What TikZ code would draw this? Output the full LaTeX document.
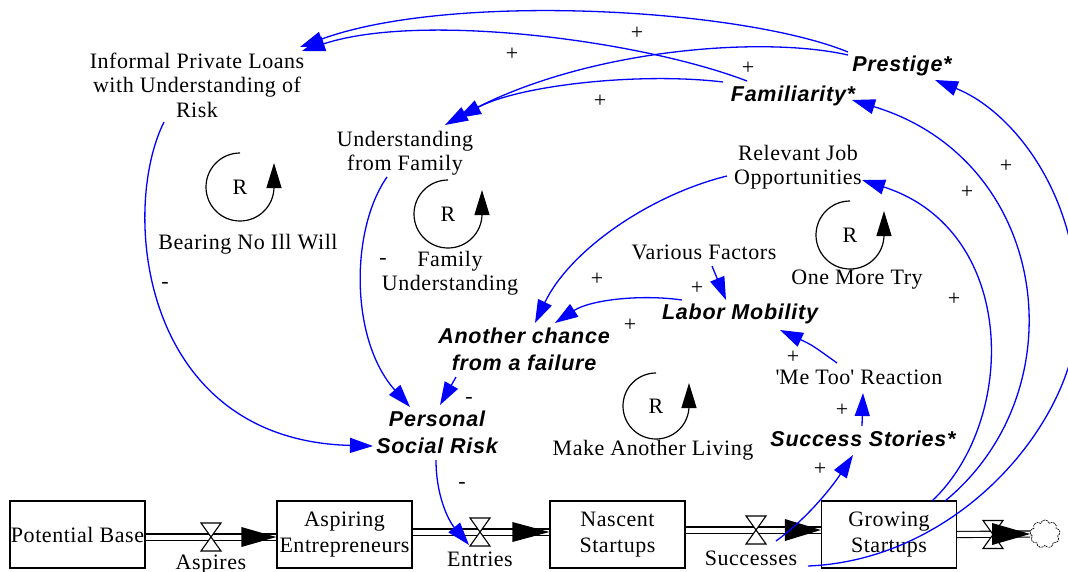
\documentclass[tikz,border=0pt]{standalone}
\usepackage{fontspec}
\setmainfont{Liberation Serif}[LetterSpace=2.5]
\newfontfamily\vsans{Liberation Sans}[LetterSpace=3.5]
\usetikzlibrary{arrows.meta,shapes.symbols}

\tikzset{
  lbl/.style={inner sep=0pt, align=center, font=\fontsize{22}{24.5}\selectfont},
  keyvar/.style={inner sep=0pt, align=center, font=\vsans\bfseries\itshape\fontsize{21.5}{27}\selectfont},
  stock/.style={draw=black, line width=1.2pt, minimum width=135pt, minimum height=67pt,
                inner sep=0pt, align=center, font=\fontsize{22}{25.5}\selectfont},
  link/.style={draw=blue, line width=1.3pt, -{Triangle[length=23pt,width=15pt]}},
  pipe/.style={double, double distance=5pt, line width=1.1pt},
  flowhead/.style={fill=black},
  loopline/.style={line width=1.2pt, -{Triangle[length=25pt,width=15pt]}},
  sign/.style={inner sep=0pt, font=\fontsize{22}{24}\selectfont},
  valve/.pic={\draw[line width=1.1pt, fill=white] (-10,14) -- (10,14) -- (-10,-14) -- (10,-14) -- cycle;},
}

\begin{document}
\begin{tikzpicture}[x=1pt,y=1pt]
\useasboundingbox (0,0) rectangle (1068,-571);
\clip (0,0) rectangle (1068,-571);

% ---------- stocks ----------
\node[stock] (pb) at (77.5,-534.5) {Potential Base};
\node[stock] (ae) at (344.5,-534.5) {Aspiring\\Entrepreneurs};
\node[stock] (ns) at (617.5,-534.5) {Nascent\\Startups};
\node[stock] (gs) at (889,-534.5) {Growing\\Startups};
\node[cloud, draw, cloud puffs=9, minimum width=30pt, minimum height=28pt, inner sep=0pt,
      line width=0.7pt, dash pattern=on 2pt off 0.8pt] (sink) at (1045,-534) {};

% ---------- flows ----------
\coordinate (vAspires) at (211,-537);
\coordinate (vEntries) at (480,-532);
\coordinate (vSuccesses) at (756,-530);
\coordinate (vExits) at (993,-534.5);

\draw[pipe] ([yshift=-2.5]pb.east) -- ([yshift=-2.5]ae.west);
\pic at (vAspires) {valve};
\fill[flowhead] ([shift={(-35,7.5)}]ae.west) -- ([yshift=-2.5]ae.west) -- ([shift={(-35,-12.5)}]ae.west) -- cycle;
\node[lbl] (aspiresL) at (211,-565) {Aspires};

\draw[pipe] ([yshift=2.5]ae.east) -- ([yshift=2.5]ns.west);
\pic at (vEntries) {valve};
\fill[flowhead] ([shift={(-37,12.5)}]ns.west) -- ([yshift=2.5]ns.west) -- ([shift={(-37,-7.5)}]ns.west) -- cycle;
\node[lbl] (entriesL) at (480,-559) {Entries};

\draw[pipe] ([yshift=4.5]ns.east) -- ([yshift=4.5]gs.west);
\pic at (vSuccesses) {valve};
\fill[flowhead] ([shift={(-36,15.5)}]gs.west) -- ([yshift=4.5]gs.west) -- ([shift={(-36,-6.5)}]gs.west) -- cycle;
\node[lbl] (successesL) at (751,-558) {Successes};

\draw[pipe] (gs.east) -- (sink.west);
\pic at (vExits) {valve};
\fill[flowhead] ([shift={(-38,11)}]sink.west) -- (sink.west) -- ([shift={(-38,-11)}]sink.west) -- cycle;

% ---------- auxiliaries ----------
\node[lbl] (loans) at (197,-85) {Informal Private Loans\\with Understanding of\\Risk};
\node[lbl] (und) at (405,-153) {Understanding\\from Family};
\node[keyvar] (prestige) at (902,-66) {Prestige*};
\node[keyvar] (famil) at (793,-96) {Familiarity*};
\node[lbl] (rjo) at (798,-167) {Relevant Job\\Opportunities};
\node[lbl] (vf) at (704,-252) {Various Factors};
\node[keyvar] (lm) at (740,-314) {Labor Mobility};
\node[keyvar] (acf) at (524,-349) {Another chance\\from a failure};
\node[keyvar] (psr) at (437,-432) {Personal\\Social Risk};
\node[lbl] (metoo) at (859,-377) {\textquotesingle Me Too\textquotesingle{} Reaction};
\node[keyvar] (ss) at (863,-439) {Success Stories*};

% ---------- reinforcing loops ----------
\node[lbl] (r1) at (240,-187) {R};
\draw[loopline] ([shift={(0,34)}]r1.center) arc[start angle=90, end angle=360, radius=34] -- ++(0,24);
\node[lbl] (bniw) at (248,-244) {Bearing No Ill Will};

\node[lbl] (r2) at (448,-214) {R};
\draw[loopline] ([shift={(0,34)}]r2.center) arc[start angle=90, end angle=360, radius=34] -- ++(0,24);
\node[lbl] (famund) at (450,-273) {Family\\Understanding};

\node[lbl] (r3) at (850,-235) {R};
\draw[loopline] ([shift={(0,34)}]r3.center) arc[start angle=90, end angle=360, radius=34] -- ++(0,24);
\node[lbl] (omt) at (857,-280) {One More Try};

\node[lbl] (r4) at (656,-406) {R};
\draw[loopline] ([shift={(0,33)}]r4.center) arc[start angle=90, end angle=360, radius=33] -- ++(0,23);
\node[lbl] (mal) at (653,-450) {Make Another Living};

% ---------- causal links ----------
\draw[link] ([shift={(-54,14)}]prestige.center) .. controls (740,-8) and (450,8) .. ([shift={(103,38)}]loans.center);
\draw[link] ([shift={(-46,15)}]famil.center) .. controls (640,-40) and (420,-12) .. ([shift={(105,34)}]loans.center);
\draw[link] ([shift={(-54,11)}]prestige.center) .. controls (760,-35) and (580,-50) .. ([shift={(40,28)}]und.center);
\draw[link] ([shift={(-70,14)}]famil.center) .. controls (640,-72) and (520,-85) .. ([shift={(53,35)}]und.center);

\draw[link] ([shift={(-18,-24)}]und.center) .. controls (350,-230) and (350,-340) .. ([shift={(-27,25)}]psr.center);
\draw[link] ([shift={(-33,-37)}]loans.center) .. controls (120,-210) and (140,-440) .. ([shift={(-64,-14)}]psr.center);
\draw[link] ([shift={(-68,-28)}]acf.center) -- ([shift={(3,27)}]psr.center);
\draw[link] ([shift={(-1,-28)}]psr.center) .. controls (436,-495) and (448,-520) .. ([shift={(-11,-13)}]vEntries);

\draw[link] ([shift={(-71,-9)}]rjo.center) .. controls (650,-195) and (570,-250) .. ([shift={(11,26)}]acf.center);
\draw[link] ([shift={(-58,14)}]lm.center) .. controls (640,-294) and (590,-300) .. ([shift={(31,26)}]acf.center);
\draw[link] ([shift={(8,-14)}]vf.center) -- ([shift={(-14,14)}]lm.center);
\draw[link] ([shift={(-22,14)}]metoo.center) .. controls (812,-345) .. ([shift={(40,-16)}]lm.center);
\draw[link] ([shift={(-1,13)}]ss.center) -- ([shift={(4,-16)}]metoo.center);
\draw[link] ([shift={(20,-11)}]vSuccesses) .. controls (805,-520) and (830,-490) .. ([shift={(-10,-16)}]ss.center);

\draw[link] ([shift={(43,33.5)}]gs.center) .. controls (1018,-420) and (1018,-230) .. ([shift={(64,-13)}]rjo.center);
\draw[link] ([shift={(56,33.5)}]gs.center) .. controls (1080,-390) and (1050,-160) .. ([shift={(59,-4)}]famil.center);
\draw[link] ([shift={(52,-36)}]vSuccesses) .. controls (960,-560) and (1078,-420) .. (1078,-310)
            .. controls (1078,-190) and (1010,-110) .. ([shift={(33,-14)}]prestige.center);

% ---------- link polarities ----------
\node[sign] (s1) at (637,-33) {+};
\node[sign] (s2) at (512,-54) {+};
\node[sign] (s3) at (748,-68) {+};
\node[sign] (s4) at (600,-101) {+};
\node[sign] (s5) at (165,-285) {-};
\node[sign] (s6) at (383,-261) {-};
\node[sign] (s7) at (469,-400) {-};
\node[sign] (s8) at (462,-485) {-};
\node[sign] (s9) at (597,-279) {+};
\node[sign] (s10) at (630,-325) {+};
\node[sign] (s11) at (697,-288) {+};
\node[sign] (s12) at (793,-357) {+};
\node[sign] (s13) at (842,-410) {+};
\node[sign] (s14) at (820,-469) {+};
\node[sign] (s15) at (954,-299) {+};
\node[sign] (s16) at (967,-192) {+};
\node[sign] (s17) at (1006,-166) {+};
\end{tikzpicture}
\end{document}
